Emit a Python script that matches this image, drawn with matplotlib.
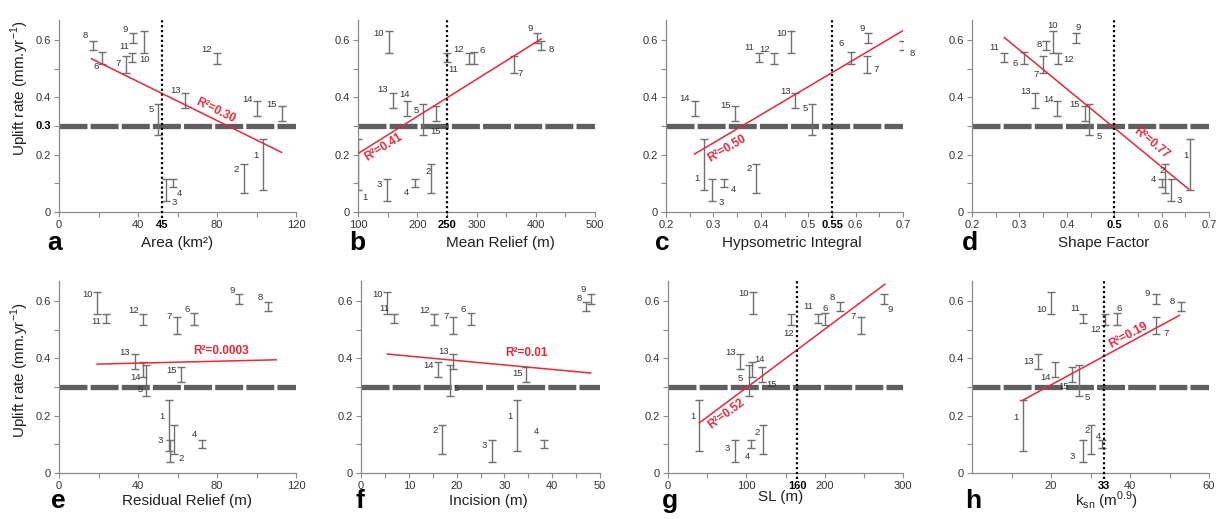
import numpy as np
import matplotlib.pyplot as plt

# uplift rate ranges (mm/yr) for basins 1..15, same in every panel
basins = [str(i) for i in range(1, 16)]
uplift_lo = [0.078, 0.068, 0.040, 0.087, 0.270, 0.515, 0.485, 0.565, 0.590, 0.555, 0.525, 0.515, 0.362, 0.335, 0.318]
uplift_hi = [0.254, 0.166, 0.116, 0.116, 0.376, 0.557, 0.545, 0.595, 0.623, 0.632, 0.556, 0.556, 0.416, 0.387, 0.370]
ref_uplift = 0.3

# morphometric index per basin (1..15)
area = [103.4, 93.7, 54.2, 57.9, 50.3, 22, 34, 17, 37.5, 43, 37, 80, 64, 100, 112.7]
mean_relief = [100.5, 224, 149, 197, 210, 295, 363, 409, 402, 152, 251, 287, 159, 183, 231]
hyps_integral = [0.281, 0.389, 0.297, 0.322, 0.507, 0.590, 0.625, 0.699, 0.627, 0.464, 0.397, 0.427, 0.473, 0.261, 0.346]
shape_factor = [0.660, 0.608, 0.620, 0.600, 0.447, 0.309, 0.350, 0.356, 0.420, 0.370, 0.268, 0.382, 0.332, 0.380, 0.439]
residual_relief = [55.7, 58.2, 56.4, 72.6, 43.8, 68.2, 59.5, 105.6, 91.2, 19.4, 23.7, 42.6, 38.5, 42.7, 61.7]
incision = [32.6, 16.9, 27.4, 38.3, 18.6, 23.0, 19.2, 47.1, 48.1, 5.5, 6.9, 15.2, 19.2, 16.2, 34.6]
sl_index = [40, 121, 85, 106, 104, 200, 246, 219, 276, 109, 192, 157, 91.5, 107, 120]
ksn = [12.8, 30.1, 28.2, 33.0, 27.2, 36.7, 46.7, 52.8, 46.7, 20, 28.1, 33.6, 16.8, 21, 25.3]

# regression lines (end points) and R2
fit_x = {"a": [16.4, 112.7], "b": [100, 409], "c": [0.26, 0.70], "d": [0.268, 0.657],
         "e": [19.3, 110], "f": [5.5, 48], "g": [40, 277], "h": [12.7, 52.5]}
fit_y = {"a": [0.535, 0.208], "b": [0.204, 0.604], "c": [0.202, 0.633], "d": [0.609, 0.080],
         "e": [0.380, 0.395], "f": [0.415, 0.349], "g": [0.175, 0.659], "h": [0.253, 0.550]}
r2_text = {"a": "0.30", "b": "0.41", "c": "0.50", "d": "0.77",
           "e": "0.0003", "f": "0.01", "g": "0.52", "h": "0.19"}
r2_at = {"a": (79.4, 0.355), "b": (143, 0.226), "c": (0.328, 0.222), "d": (0.579, 0.240),
         "e": (82, 0.427), "f": (34.7, 0.418), "g": (74.5, 0.205), "h": (39.7, 0.481)}

# threshold (dotted line) position and its label
thr_pos = {"a": 52, "b": 250, "c": 0.551, "d": 0.5, "g": 164.7, "h": 33.5}
thr_lab = {"a": "45", "b": "250", "c": "0.55", "d": "0.5", "g": "160", "h": "33"}

# basin number label offsets (points) from the bar centre
lab_off = {
    "a": [(-5.3, 6.5), (-5.5, 6.5), (6, -9), (4.3, -7.7), (-5, 7.2), (-4.8, -6), (-5.5, 1), (-5.5, 7.4),
          (-5.8, 6.5), (0.5, -12.5), (-6, 7.4), (-7.4, 6.5), (-7, 7.2), (-6.7, 6.7), (-7.2, 6.2)],
    "b": [(4.8, -24), (-2.6, 4.8), (-5.3, 3.8), (-6.7, -7.2), (-4.8, 6.7), (6.5, 5.7), (4.8, -6.8), (7.2, -3),
          (-4.8, 7), (-7.7, 5.8), (4.3, -9.2), (-7.2, 6.2), (-7.7, 7.7), (-1.7, 10), (0, -13)],
    "c": [(-5.5, -9.8), (-4.8, 7), (7, -9), (7.2, -5), (-4.8, 8), (-6.7, 10.5), (6.2, -3.7), (7.2, -5.2),
          (-4.6, 7), (-6.7, 6), (-7.4, 7), (-6.7, 6.2), (-7, 6.4), (-7.2, 7.2), (-6.7, 6)],
    "d": [(-3.1, 6.7), (-2.2, 5.5), (6, -8), (-5.8, 2.5), (7.7, -12.2), (-6, -4), (-5.3, -7), (-5, 1),
          (1.7, 8), (0.2, 11.8), (-7.2, 6.8), (7.2, -1), (-6.7, 6.7), (-6.5, 6.7), (-7.7, 6.4)],
    "e": [(-5, 6.5), (5.5, -14), (-7, 7.2), (-5.8, 6.8), (-4, -6.8), (-4.8, 6.8), (-5.3, 6.6), (-5.5, 6.6),
          (-4.8, 6.6), (-6.7, 6.4), (-6.7, -2.6), (-6.7, 6.8), (-7.4, 6.6), (-5.5, -5.8), (-6.5, 2.9)],
    "f": [(-5.3, 6.5), (-5, 6.5), (-5.5, 3.4), (-5.3, 8.7), (4.3, -6), (-5.5, 6.8), (-5, 6.6), (-4.6, 6),
          (-5.8, 7), (-7.2, 6.3), (-7, 6.7), (-6.7, 6.8), (-6.7, 7), (-7.2, 2.9), (-6.7, 0.7)],
    "g": [(-4.8, 6.7), (-4, 5.3), (-5.3, 1.7), (-2.4, -9.4), (-6.7, 1.4), (0, 8.2), (-5.8, 6.7), (-5, 6.7),
          (4.3, -7.4), (-7.2, 6.5), (-7.2, 8.2), (-1.7, -9.8), (-6.7, 6.7), (5.5, 7), (6.7, -7)],
    "h": [(-4.8, 6), (-2.9, 6.5), (-7.7, -4), (-2.9, 5), (5.3, -12), (1.7, 8), (6.7, -5.8), (-5.8, 4),
          (-6.5, 3.8), (-6.7, -4.8), (-6, 7), (-6.5, -7), (-7.2, -0.3), (-6.5, -5.5), (-5.8, -9)],
}

plt.rcParams['font.family'] = ['Liberation Sans', 'DejaVu Sans']

W, H = 1221, 519
RED = "#e8283a"
GREY = "#707070"

# panel: x data, xlim, major ticks, labels, minor ticks, xlabel, axes box (px), xlabel centre, letter centre
panels = [
    ("a", area, (0, 120), [0, 40, 80, 120], ["0", "40", "80", "120"], [20, 60, 100],
     "Area (km²)", (59, 296, 20, 212), (177, 243), (55, 243)),
    ("b", mean_relief, (100, 500), [100, 200, 300, 400, 500], ["100", "200", "300", "400", "500"],
     [150, 250, 350, 450], "Mean Relief (m)", (358, 595, 20, 212), (500, 243), (357, 243)),
    ("c", hyps_integral, (0.2, 0.7), [0.2, 0.3, 0.4, 0.5, 0.6, 0.7], ["0.2", "0.3", "0.4", "0.5", "0.6", "0.7"],
     [0.25, 0.35, 0.45, 0.55, 0.65], "Hypsometric Integral", (666, 903, 20, 212), (792, 243), (662, 243)),
    ("d", shape_factor, (0.2, 0.7), [0.2, 0.3, 0.4, 0.6, 0.7], ["0.2", "0.3", "0.4", "0.6", "0.7"],
     [0.25, 0.35, 0.45, 0.5, 0.55, 0.65], "Shape Factor", (972, 1209, 20, 212), (1104, 243), (970, 243)),
    ("e", residual_relief, (0, 120), [0, 40, 80, 120], ["0", "40", "80", "120"], [20, 60, 100],
     "Residual Relief (m)", (59, 296, 281, 473), (187, 501), (58, 501)),
    ("f", incision, (0, 50), [0, 10, 20, 30, 40, 50], ["0", "10", "20", "30", "40", "50"],
     [5, 15, 25, 35, 45], "Incision (m)", (361, 600, 281, 473), (488, 501), (360, 501)),
    ("g", sl_index, (0, 300), [0, 100, 200, 300], ["0", "100", "200", "300"], [50, 150, 250],
     "SL (m)", (668, 903, 281, 473), (781, 497), (670, 501)),
    ("h", ksn, (0, 60), [20, 40, 60], ["20", "40", "60"], [10, 30, 50],
     r"k$_\mathregular{sn}$ (m$^\mathregular{0.9}$)", (972, 1209, 281, 473), (1107, 501), (973, 501)),
]

fig = plt.figure(figsize=(W / 100, H / 100), dpi=100)
lo = np.array(uplift_lo)
hi = np.array(uplift_hi)
mid = (lo + hi) / 2

for key, xs, xlim, major, mlabels, minor, xlabel, box, xlab_c, let_c in panels:
    l, r, t, b = box
    ax = fig.add_axes([l / W, 1 - b / H, (r - l) / W, (b - t) / H])
    ax.set_xlim(*xlim)
    ax.set_ylim(0, 0.67)
    for s in ["top", "right"]:
        ax.spines[s].set_visible(False)
    for s in ["left", "bottom"]:
        ax.spines[s].set_color("#8a8a8a")
        ax.spines[s].set_linewidth(0.9)
    ax.set_xticks(major)
    ax.set_xticklabels(mlabels)
    ax.set_xticks(minor, minor=True)
    ax.set_yticks([0, 0.2, 0.4, 0.6])
    ax.set_yticklabels(["0", "0.2", "0.4", "0.6"])
    ax.set_yticks([0.1, 0.3, 0.5], minor=True)
    ax.tick_params(which="both", direction="out", length=3.5, width=0.8, color="#8a8a8a",
                   labelsize=8, labelcolor="#333333", pad=2.5)
    ax.patch.set_alpha(0)

    # 0.3 mm/yr reference
    ax.axhline(ref_uplift, color="#5f5f5f", lw=3.8, ls=(0, (5.3, 0.6)), zorder=1,
               solid_capstyle="butt", dash_capstyle="butt")

    xs = np.array(xs)
    ax.errorbar(xs, mid, yerr=(hi - lo) / 2, fmt="none", ecolor=GREY, elinewidth=1.0,
                capsize=2.6, capthick=1.0, zorder=2)
    for i, name in enumerate(basins):
        dx, dy = lab_off[key][i]
        ax.annotate(name, (xs[i], mid[i]), xytext=(dx, dy), textcoords="offset points",
                    ha="center", va="center", fontsize=6.8, color="#333333", zorder=5,
                    annotation_clip=False)

    # regression line + R2
    ax.plot(fit_x[key], fit_y[key], color=RED, lw=1.1, zorder=3)
    p0 = ax.transData.transform((fit_x[key][0], fit_y[key][0]))
    p1 = ax.transData.transform((fit_x[key][1], fit_y[key][1]))
    ang = np.degrees(np.arctan2(p1[1] - p0[1], p1[0] - p0[0]))
    if key in ("e", "f"):
        ang = 0
    ax.text(*r2_at[key], "R²=" + r2_text[key], color=RED, fontsize=8.5, fontweight="bold",
            rotation=ang, rotation_mode="anchor", ha="center", va="center", zorder=6)

    # threshold
    if key in thr_pos:
        ax.axvline(thr_pos[key], ymin=-0.03, color="black", lw=1.6, ls=(0, (1, 1.2)),
                   zorder=4, clip_on=False)
        ax.annotate(thr_lab[key], (thr_pos[key], 0), xytext=(0, -5.5), textcoords="offset points",
                    ha="center", va="top", fontsize=8, fontweight="bold", color="black")
    if key == "a":
        ax.annotate("0.3", (0, ref_uplift), xytext=(-5.5, 0), textcoords="offset points",
                    ha="right", va="center", fontsize=8, fontweight="bold", color="black")

    fig.text(xlab_c[0] / W, 1 - xlab_c[1] / H, xlabel, ha="center", va="center",
             fontsize=11, color="#222222")
    fig.text(let_c[0] / W, 1 - let_c[1] / H, key, ha="center", va="center",
             fontsize=19, fontweight="bold", color="black")

ylab = r"Uplift rate (mm.yr$^\mathregular{-1}$)"
fig.text(20 / W, 1 - 88 / H, ylab, rotation=90, ha="center", va="center", fontsize=11, color="#222222")
fig.text(20 / W, 1 - 370 / H, ylab, rotation=90, ha="center", va="center", fontsize=11, color="#222222")

fig.savefig("out.png", dpi=100)
